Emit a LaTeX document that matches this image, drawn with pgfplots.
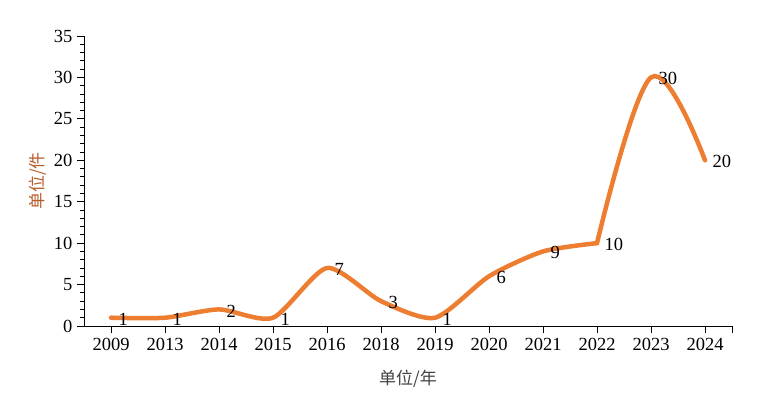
\documentclass[border=0pt]{standalone}
\usepackage{pgfplots}
\pgfplotsset{compat=1.18}
\usepackage{fontspec}
\setmainfont{Liberation Serif}
\newfontfamily\cjk{Noto Sans CJK SC}
\definecolor{lineor}{HTML}{ED7D31}
\definecolor{ylab}{HTML}{B85C2A}
\definecolor{xlab}{HTML}{404040}
\begin{document}
\begin{tikzpicture}[x=1pt,y=1pt]
\useasboundingbox (0,0) rectangle (782,408);
\begin{axis}[
  at={(84pt,82pt)}, anchor=south west,
  scale only axis, width=648pt, height=290pt,
  xmin=-0.5, xmax=11.5, ymin=0, ymax=35,
  axis lines*=left,
  xtick={0,...,11},
  xticklabels={2009,2013,2014,2015,2016,2018,2019,2020,2021,2022,2023,2024},
  extra x ticks={11.5}, extra x tick labels={},
  ytick={0,5,...,35}, minor y tick num=4,
  tick align=outside,
  major tick length=7pt, minor tick length=4pt,
  tick style={black, line width=0.8pt},
  axis line style={black, line width=0.9pt},
  /pgf/number format/assume math mode=true,
  ticklabel style={font=\fontsize{18.5}{20}\selectfont},
  xticklabel style={yshift=-2pt},
  yticklabel style={xshift=-1pt},
  xlabel={\cjk 单位/年}, ylabel={\cjk 单位/件},
  xlabel style={font=\fontsize{17}{19}\selectfont, text=xlab, yshift=2pt},
  ylabel style={font=\fontsize{17}{19}\selectfont, text=ylab, yshift=1pt},
  clip=false,
]
\addplot[color=lineor, line width=4.5pt, smooth, tension=0.42, mark=none, line cap=round]
  coordinates {
  (0,1) (1,1) (2,2) (3,1) (4,7) (5,3)
  (6,1) (7,6) (8,9) (9,10)
  };
\addplot[color=lineor, line width=4.5pt, smooth, tension=0.6, mark=none, line cap=round]
  coordinates {
  (9,10) (10,30) (11,20)
  };
\addplot[draw=none, mark=none, nodes near coords, point meta=explicit symbolic,
  every node near coord/.append style={anchor=west, xshift=4pt, yshift=-1.5pt, font=\fontsize{18.5}{20}\selectfont, text=black}]
  coordinates {
  (0,1) [1] (1,1) [1] (2,2) [2] (3,1) [1] (4,7) [7] (5,3) [3]
  (6,1) [1] (7,6) [6] (8,9) [9] (9,10) [10] (10,30) [30] (11,20) [20]
  };
\end{axis}
\end{tikzpicture}
\end{document}
